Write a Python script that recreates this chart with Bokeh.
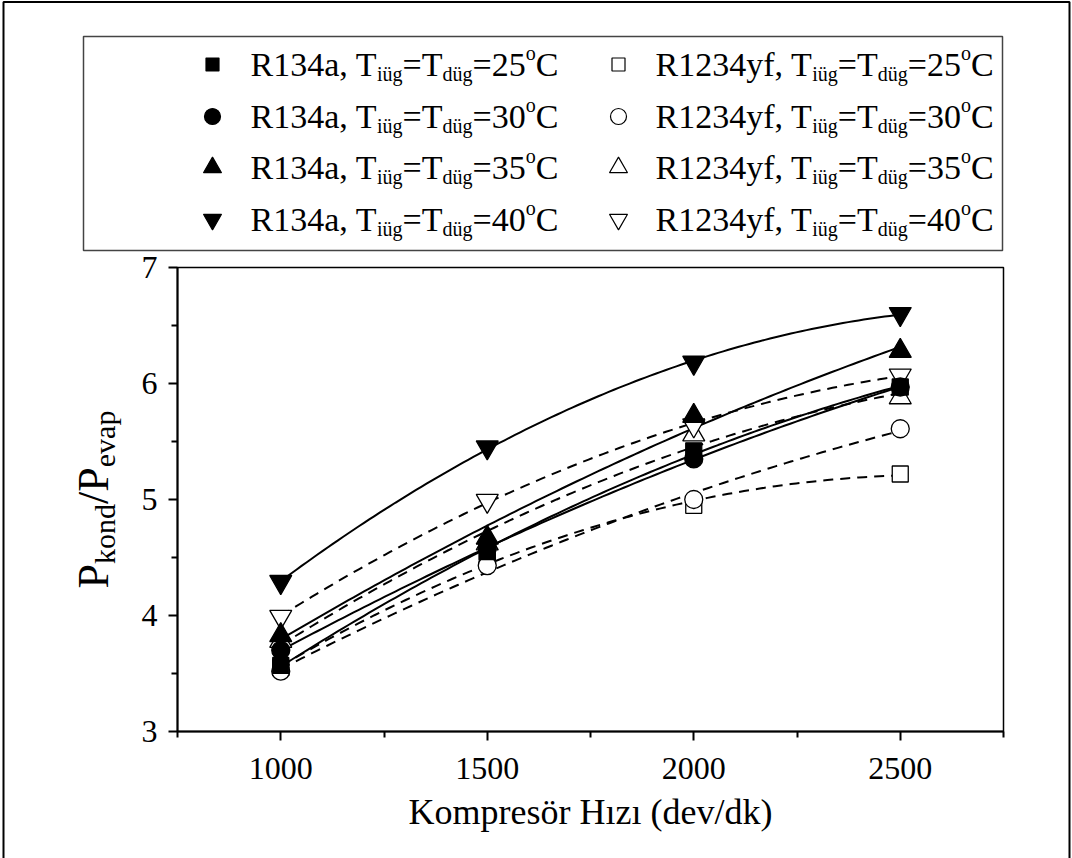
import numpy as np
from bokeh.plotting import figure
from bokeh.models import Range1d, FixedTicker, ColumnDataSource
from bokeh.embed import file_html
from bokeh.resources import INLINE
from bokeh.core.properties import value

# ---------------- data ----------------
speed = [1000, 1500, 2000, 2500]
r134a_25 = [3.57, 4.55, 5.42, 5.97]
r134a_30 = [3.70, 4.58, 5.35, 5.97]
r134a_35 = [3.83, 4.67, 5.72, 6.28]
r134a_40 = [4.29, 5.45, 6.18, 6.60]
r1234yf_25 = [3.55, 4.48, 4.95, 5.22]
r1234yf_30 = [3.52, 4.43, 5.00, 5.61]
r1234yf_35 = [3.78, 4.62, 5.56, 5.88]
r1234yf_40 = [3.99, 4.99, 5.64, 6.07]
temps = ["25", "30", "35", "40"]
x_ticks = [1000, 1500, 2000, 2500]
x_minor = [750, 1250, 1750, 2250, 2750]
y_ticks = [3, 4, 5, 6, 7]
y_minor = [3.5, 4.5, 5.5, 6.5]
x_label = "Kompresör Hızı (dev/dk)"

FONT = "Liberation Serif"
markers = ["square", "circle", "triangle", "inverted_triangle"]
msize = [16, 18, 22, 22]
lsize = [13, 16, 18, 18]
PW, PH = 1072, 858

# Times/Liberation Serif advance widths (em) for positioning composed texts
W = {'R': .667, '1': .5, '2': .5, '3': .5, '4': .5, '0': .5, '5': .5, 'a': .444, ',': .25,
     ' ': .25, 'T': .611, 'i': .278, 'ü': .5, 'g': .5, '=': .564, 'd': .5, 'o': .5,
     'C': .667, 'y': .5, 'f': .333, 'P': .556, 'k': .5, 'n': .5, '/': .278, 'e': .444,
     'v': .5, 'p': .5}
def tw(s, size):
    return sum(W.get(ch, .5) for ch in s) * size

# ---------------- background canvas: page border, legend, y label ----------------
bg = figure(width=PW, height=PH, x_range=Range1d(0, PW), y_range=Range1d(PH, 0),
            min_border=0, x_axis_type=None, y_axis_type=None,
            output_backend="svg", toolbar_location=None)
bg.xgrid.visible = False
bg.ygrid.visible = False
bg.outline_line_color = None
bg.background_fill_color = "white"
bg.border_fill_color = "white"

# outer page border (left, top, right)
bg.line(x=[3, 3, 1069, 1069], y=[PH, 1.5, 1.5, PH], line_color="black", line_width=2)
# legend box
bg.quad(left=83, right=1002, top=36, bottom=250, fill_color=None,
        line_color="#444444", line_width=1.5)

rows = [64, 116, 167, 219]
cols = [(212, 250, "R134a", "black"), (618, 655, "R1234yf", "white")]
MAIN, SUB = 34, 20
px, py, pt, pf = [], [], [], []
for mx, tx, name, fill in cols:
    bg.scatter([mx] * 4, rows, marker=markers, size=lsize, fill_color=fill,
               line_color="black", line_width=1.2)
    for r, tmp in zip(rows, temps):
        b = r
        pieces = [(name + ", T", MAIN, 0), ("iüg", SUB, 9), ("=T", MAIN, 0),
                  ("düg", SUB, 9), ("=" + tmp, MAIN, 0), ("o", SUB, -12), ("C", MAIN, 0)]
        x = tx
        for t, fs, off in pieces:
            px.append(x); py.append(b + off); pt.append(t); pf.append(f"{fs}px")
            x += tw(t, fs)
src = ColumnDataSource(dict(x=px, y=py, text=pt, fs=pf))
bg.text(x="x", y="y", text="text", source=src, text_font=value(FONT),
        text_font_size="fs", text_color="black", text_baseline="alphabetic",
        text_align="left")

# rotated y label P_kond/P_evap
ylab = [("P", 44, 0), ("kond", 30, 11), ("/P", 44, 0), ("evap", 30, 11)]
total = sum(tw(t, fs) for t, fs, _ in ylab)
yy = 499 + total / 2
lx, ly, lt, lf = [], [], [], []
for t, fs, off in ylab:
    lx.append(93 + off); ly.append(yy); lt.append(t); lf.append(f"{fs}px")
    yy -= tw(t, fs)
src2 = ColumnDataSource(dict(x=lx, y=ly, text=lt, fs=lf))
bg.text(x="x", y="y", text="text", source=src2, angle=np.pi / 2, text_font=value(FONT),
        text_font_size="fs", text_color="black", text_baseline="alphabetic",
        text_align="left")

# ---------------- main plot (overlaid on the background canvas) ----------------
p = figure(frame_width=826, frame_height=464,
           min_border_left=177, min_border_right=PW - 1003,
           min_border_top=267, min_border_bottom=PH - 731,
           x_range=Range1d(750, 2750), y_range=Range1d(3, 7),
           output_backend="svg", toolbar_location=None)
p.styles = {"margin-top": f"-{PH}px"}
p.xgrid.visible = False
p.ygrid.visible = False
p.outline_line_color = "black"
p.outline_line_width = 1.5
p.outline_line_alpha = 1.0
p.background_fill_color = "white"
p.border_fill_alpha = 0.0

p.xaxis.ticker = FixedTicker(ticks=x_ticks, minor_ticks=x_minor)
p.yaxis.ticker = FixedTicker(ticks=y_ticks, minor_ticks=y_minor)
for ax in (p.xaxis[0], p.yaxis[0]):
    ax.axis_line_width = 2
    ax.axis_line_color = "black"
    ax.major_tick_line_width = 2
    ax.minor_tick_line_width = 2
    ax.major_tick_in = 0
    ax.major_tick_out = 9
    ax.minor_tick_in = 0
    ax.minor_tick_out = 6
    ax.major_label_text_font = FONT
    ax.major_label_text_font_size = "32px"
    ax.major_label_text_color = "black"
p.xaxis.major_label_standoff = 17
p.yaxis.major_label_standoff = 11
p.xaxis.axis_label = x_label
p.xaxis.axis_label_text_font = FONT
p.xaxis.axis_label_text_font_size = "36px"
p.xaxis.axis_label_text_font_style = "normal"
p.xaxis.axis_label_text_color = "black"
p.xaxis.axis_label_standoff = 10

series134 = [r134a_25, r134a_30, r134a_35, r134a_40]
series1234 = [r1234yf_25, r1234yf_30, r1234yf_35, r1234yf_40]
xs = np.linspace(speed[0], speed[-1], 120)
for vals in series134:
    c = np.polyfit(speed, vals, 2)
    p.line(xs, np.polyval(c, xs), line_color="black", line_width=2)
for vals in series1234:
    c = np.polyfit(speed, vals, 2)
    p.line(xs, np.polyval(c, xs), line_color="black", line_width=2, line_dash="10 7")
for vals, m, s in zip(series1234, markers, msize):
    p.scatter(speed, vals, marker=m, size=s, fill_color="white", line_color="black", line_width=1.3)
for vals, m, s in zip(series134, markers, msize):
    p.scatter(speed, vals, marker=m, size=s, fill_color="black", line_color="black", line_width=1.3)

open("out.html", "w").write(file_html([bg, p], INLINE))
